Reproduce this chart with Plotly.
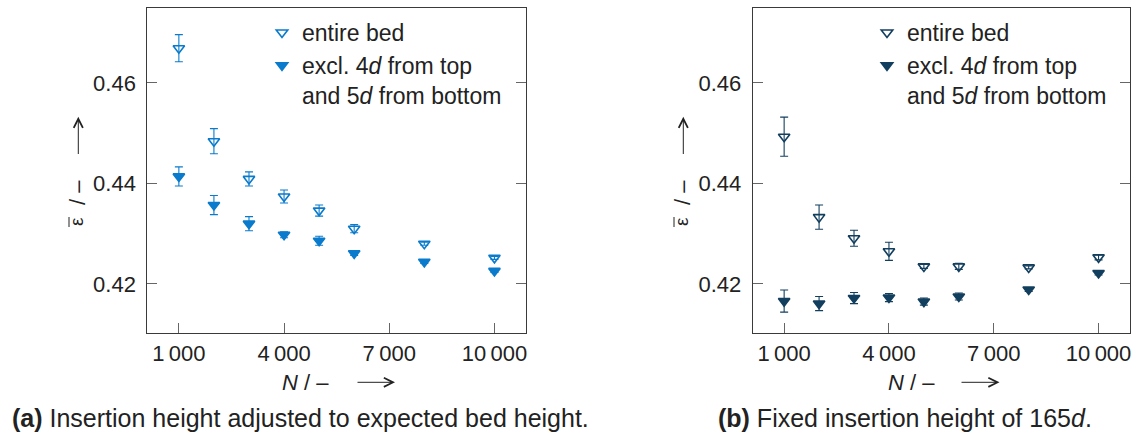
import plotly.graph_objects as go

# ---------------- data ----------------
N = [1000, 2000, 3000, 4000, 5000, 6000, 8000, 10000]

# (a) insertion height adjusted to expected bed height
a_entire = [0.4669, 0.4484, 0.4409, 0.4374, 0.4346, 0.4310, 0.4280, 0.4252]
a_entire_err = [0.0027, 0.0025, 0.0014, 0.0013, 0.0011, 0.0008, 0.0003, 0.0003]
a_excl = [0.4414, 0.4357, 0.4320, 0.4298, 0.4286, 0.4261, 0.4244, 0.4226]
a_excl_err = [0.0019, 0.0019, 0.0014, 0.0006, 0.0009, 0.0004, 0.0003, 0.0003]

# (b) fixed insertion height of 165d
b_entire = [0.4493, 0.4333, 0.4291, 0.4265, 0.4235, 0.4235, 0.4233, 0.4253]
b_entire_err = [0.0039, 0.0024, 0.0016, 0.0018, 0.0004, 0.0006, 0.0003, 0.0005]
b_excl = [0.4166, 0.4161, 0.4172, 0.4173, 0.4165, 0.4175, 0.4189, 0.4222]
b_excl_err = [0.0022, 0.0014, 0.0011, 0.0008, 0.0007, 0.0007, 0.0004, 0.0004]

x_tickvals = [1000, 4000, 7000, 10000]
x_ticktext = ["1\u2009000", "4\u2009000", "7\u2009000", "10\u2009000"]
y_tickvals = [0.42, 0.44, 0.46]
y_ticktext = ["0.42", "0.44", "0.46"]

name_entire = "entire bed"
name_excl = "excl. 4<i>d</i> from top<br>and 5<i>d</i> from bottom"

COL_A = "#0a7bcc"
COL_B = "#133f5f"
FONT = "Liberation Sans, Arial, Helvetica, sans-serif"
TXT = "#222222"
FS = 22

W, H = 1137, 437


def px_x(p):
    return p / W


def px_y(p):
    return 1 - p / H


fig = go.Figure()


def add_series(x, y, err, color, symbol, name, xa, ya, legend):
    fig.add_trace(go.Scatter(
        x=x, y=y, mode="markers", name=name,
        xaxis=xa, yaxis=ya, legend=legend,
        marker=dict(symbol=symbol, size=10, color=color,
                    line=dict(color=color, width=1.6)),
        error_y=dict(type="data", array=err, visible=True,
                     color=color, thickness=1.1, width=4),
    ))


add_series(N, a_entire, a_entire_err, COL_A, "triangle-down-open", name_entire, "x", "y", "legend")
add_series(N, a_excl, a_excl_err, COL_A, "triangle-down", name_excl, "x", "y", "legend")
add_series(N, b_entire, b_entire_err, COL_B, "triangle-down-open", name_entire, "x2", "y2", "legend2")
add_series(N, b_excl, b_excl_err, COL_B, "triangle-down", name_excl, "x2", "y2", "legend2")

xr = [100, 10900]
yr = [0.41025, 0.4749]
ydom = [px_y(333), px_y(8)]
L1, R1 = 147.3, 526
L2, R2 = 752.7, 1130
dom1 = [px_x(L1), px_x(R1)]
dom2 = [px_x(L2), px_x(R2)]

common_x = dict(range=xr, tickvals=x_tickvals, ticktext=x_ticktext,
                ticks="inside", ticklen=10, tickcolor="#666666", tickwidth=1,
                showline=True, linecolor="#3a3a3a", linewidth=1, mirror=True,
                showgrid=False, zeroline=False,
                tickfont=dict(family=FONT, size=FS, color=TXT),
                ticklabelstandoff=1)
common_y = dict(range=yr, tickvals=y_tickvals, ticktext=y_ticktext, domain=ydom,
                ticks="inside", ticklen=10, tickcolor="#666666", tickwidth=1,
                showline=True, linecolor="#3a3a3a", linewidth=1, mirror="ticks",
                showgrid=False, zeroline=False,
                tickfont=dict(family=FONT, size=FS, color=TXT),
                ticklabelstandoff=6)

legend_common = dict(font=dict(family=FONT, size=23, color=TXT),
                     bgcolor="rgba(0,0,0,0)", xanchor="left", yanchor="top",
                     valign="top", tracegroupgap=0, itemclick=False)

fig.update_layout(
    width=W, height=H, margin=dict(l=0, r=0, t=0, b=0),
    paper_bgcolor="white", plot_bgcolor="white",
    showlegend=True,
    xaxis=dict(domain=dom1, anchor="y", **common_x),
    yaxis=dict(anchor="x", **common_y),
    xaxis2=dict(domain=dom2, anchor="y2", **common_x),
    yaxis2=dict(anchor="x2", **common_y),
    legend=dict(x=px_x(262), y=px_y(11), **legend_common),
    legend2=dict(x=px_x(867), y=px_y(11), **legend_common),
)

annos = []
shapes = []
ARROW = dict(showarrow=True, arrowhead=5, arrowsize=1.8, arrowwidth=1,
             arrowcolor=TXT, text="", xref="paper", yref="paper",
             axref="pixel", ayref="pixel")

for (nx, arx0, arx1, ey_x, arrow_x) in [(305, 356, 395, 77, 78.3),
                                         (911, 960, 999.5, 682, 683.3)]:
    # x-axis title: "N / –" plus long arrow
    annos.append(dict(text="<i>N</i> / –", x=px_x(nx), y=px_y(382), xref="paper", yref="paper",
                      xanchor="center", yanchor="middle", showarrow=False,
                      font=dict(family=FONT, size=FS, color=TXT)))
    annos.append(dict(x=px_x(arx1), y=px_y(382.3), ax=arx0 - arx1, ay=0, **ARROW))
    # y-axis title: "ε̄ / –" plus long arrow (rotated)
    annos.append(dict(text="/ –", x=px_x(ey_x), y=px_y(193), xref="paper", yref="paper",
                      xanchor="center", yanchor="middle", showarrow=False, textangle=-90,
                      font=dict(family=FONT, size=FS, color=TXT)))
    annos.append(dict(text="ε", x=px_x(ey_x - 1), y=px_y(222), xref="paper", yref="paper",
                      xanchor="center", yanchor="middle", showarrow=False, textangle=-90,
                      font=dict(family=FONT, size=19, color=TXT)))
    shapes.append(dict(type="line", xref="paper", yref="paper",
                       x0=px_x(ey_x - 8), x1=px_x(ey_x - 8),
                       y0=px_y(217), y1=px_y(227),
                       line=dict(color=TXT, width=1)))
    annos.append(dict(x=px_x(arrow_x), y=px_y(116.7), ax=0, ay=155.5 - 116.7, **ARROW))

annos.append(dict(text="<b>(a)</b> Insertion height adjusted to expected bed height.",
                  x=px_x(10), y=px_y(418), xref="paper", yref="paper",
                  xanchor="left", yanchor="middle", showarrow=False,
                  font=dict(family=FONT, size=25, color=TXT)))
annos.append(dict(text="<b>(b)</b> Fixed insertion height of 165<i>d</i>.",
                  x=px_x(716), y=px_y(418), xref="paper", yref="paper",
                  xanchor="left", yanchor="middle", showarrow=False,
                  font=dict(family=FONT, size=25, color=TXT)))
fig.update_layout(annotations=annos, shapes=shapes)

fig.write_html("out.html")
